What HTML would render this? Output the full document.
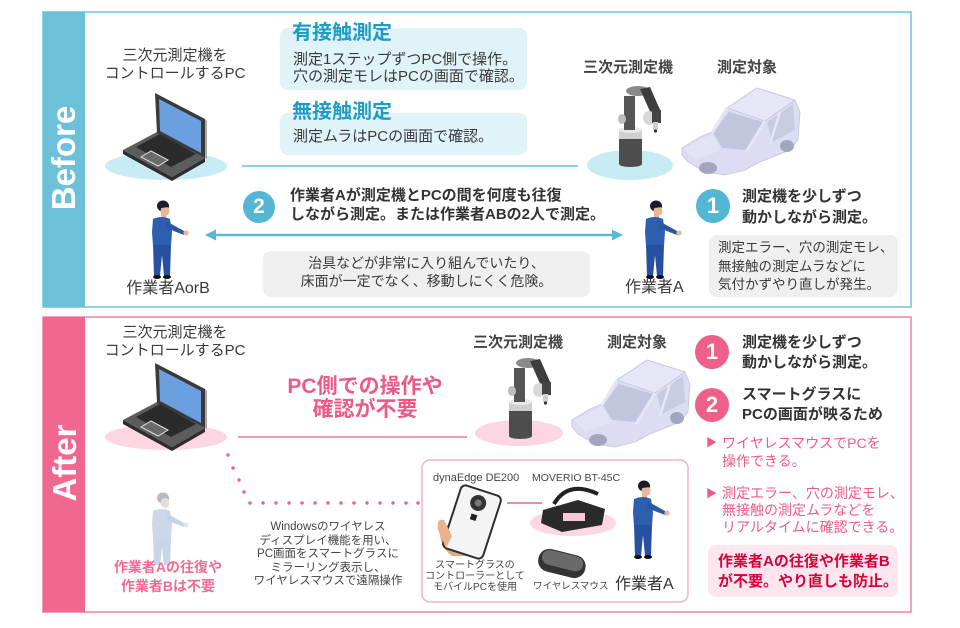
<!DOCTYPE html>
<html><head><meta charset="utf-8">
<style>
html,body{margin:0;padding:0;background:#fff;}
body{width:960px;height:628px;position:relative;overflow:hidden;font-family:"Liberation Sans","Noto Sans CJK JP",sans-serif;color:#3a3a3a;}
.t{position:absolute;white-space:nowrap;}
svg{position:absolute;left:0;top:0;}
</style></head><body>
<svg width="960" height="628" viewBox="0 0 960 628">
  <defs>
  <g id="wk">
    <ellipse cx="1" cy="5" rx="6" ry="5.5" fill="#1b1b2b"/>
    <ellipse cx="3" cy="10" rx="4.5" ry="5" fill="#e8b896"/>
    <path d="M-1,4 Q2,0 7,4 L7,6 L-1,7 Z" fill="#1b1b2b"/>
    <rect x="-1" y="13" width="5" height="5" fill="#e8b896"/>
    <path d="M-9,18 Q0,14 8,18 L10,31 L9,45 L-9,45 L-10,31 Z" fill="#2d5fae"/>
    <path d="M4,20 L22,30 L22,34 L4,27 Z" fill="#2a58a5"/>
    <circle cx="24" cy="32" r="2.6" fill="#e8b896"/>
    <path d="M-9,44 L9,44 L8,75 L2,75 L0,54 L-2,75 L-8,75 Z" fill="#2850a0"/>
    <ellipse cx="-5" cy="76" rx="4" ry="2" fill="#111"/>
    <ellipse cx="5" cy="76" rx="4" ry="2" fill="#111"/>
  </g>
  </defs>
  <!-- BEFORE frame -->
  <rect x="43" y="12" width="868" height="295" fill="#fff" stroke="#8fd4e4" stroke-width="2"/>
  <rect x="43" y="12" width="42" height="295" fill="#6cc1d9"/>
  <!-- AFTER frame -->
  <rect x="43" y="317" width="868" height="295" fill="#fff" stroke="#f5a2b9" stroke-width="2"/>
  <rect x="43" y="317" width="42" height="295" fill="#f06790"/>

  <!-- Before light-blue boxes -->
  <rect x="280" y="28" width="247" height="62" rx="8" fill="#e0f3f8"/>
  <rect x="280" y="113" width="247" height="42" rx="8" fill="#e0f3f8"/>
  <!-- before line -->
  <line x1="242" y1="166" x2="578" y2="166" stroke="#8fd0e2" stroke-width="2"/>
  <!-- arrow -->
  <line x1="212" y1="235" x2="616" y2="235" stroke="#5bb8d5" stroke-width="2.5"/>
  <polygon points="205,235 216,229.5 216,240.5" fill="#5bb8d5"/>
  <polygon points="623,235 612,229.5 612,240.5" fill="#5bb8d5"/>
  <!-- gray boxes -->
  <rect x="263" y="251" width="327" height="46" rx="8" fill="#efefef"/>
  <rect x="709" y="235" width="189" height="62" rx="8" fill="#efefef"/>
  <!-- circles -->
  <circle cx="259" cy="207" r="16" fill="#52b6d4"/>
  <circle cx="713" cy="206" r="17" fill="#52b6d4"/>

  <!-- ellipses -->
  <ellipse cx="166" cy="166" rx="61" ry="14" fill="#c8ecf4"/>
  <ellipse cx="630" cy="165" rx="43" ry="15" fill="#c6ebf3"/>
  <ellipse cx="166" cy="437" rx="61" ry="13" fill="#fcd6e1"/>
  <ellipse cx="519" cy="433" rx="44" ry="13" fill="#fcd6e1"/>

  <!-- laptops -->
  <g id="lap">
    <polygon points="123,150 172,177 205,158 205,162 172,181 123,154" fill="#2d2d2d"/>
    <polygon points="123,150 157,132 205,158 172,177" fill="#5c5c5c"/>
    <polygon points="136,147 160,134 196,154 171,167" fill="#2b2b2b"/>
    <polygon points="141,157 151,151 168,160 158,166" fill="#6a6a6a" stroke="#e0e0e0" stroke-width="1"/>
    <polygon points="155,93 205,119 205,158 157,133" fill="#3a3a3a"/>
    <polygon points="205,119 207,121 207,159 205,158" fill="#aaa"/>
    <polygon points="159,99 201,121 201,153 160,131" fill="#6b9fe0"/>
  </g>
  <use href="#lap" transform="translate(0,270)"/>

  <!-- robots -->
  <g id="rob">
    <rect x="619" y="138" width="23" height="26" fill="#4d4d4d"/>
    <ellipse cx="630.5" cy="164" rx="11.5" ry="3" fill="#4d4d4d"/>
    <rect x="619" y="130" width="23" height="9" fill="#cfcfcf"/>
    <ellipse cx="630.5" cy="130" rx="11.5" ry="3" fill="#e8e8e8"/>
    <rect x="624" y="96" width="11" height="34" fill="#555"/>
    <ellipse cx="622" cy="119" rx="4" ry="5" fill="#bdbdbd"/>
    <ellipse cx="638" cy="91" rx="12" ry="5" fill="#8a8a8a"/>
    <polygon points="640,89 650,87 661,112 652,116" fill="#3d3d3d"/>
    <ellipse cx="649" cy="118" rx="6" ry="7" fill="#d8d8d8"/>
    <rect x="652" y="110" width="9" height="13" fill="#444"/>
    <rect x="653" y="122" width="5" height="8" fill="#d0d0d0"/>
    <circle cx="655.5" cy="131" r="1.6" fill="#333"/>
  </g>
  <use href="#rob" transform="translate(-110,272)"/>

  <!-- cars -->
  <g id="car">
    <polygon points="682,148 700,137 712,132 727,108 757,88 795,100 800,112 798,140 790,150 760,162 745,170 725,175 705,172 688,162 682,155" fill="#dcdcf3" stroke="#c3c5e4" stroke-width="0.8"/>
    <polygon points="713,133 729,112 763,122 746,150 722,148" fill="#c3c5df"/>
    <polygon points="767,122 793,104 795,130 772,142" fill="#c9cbe3"/>
    <polygon points="727,108 757,88 795,100 765,121" fill="#e6e6f7" stroke="#c3c5e4" stroke-width="0.8"/>
    <line x1="727" y1="108" x2="712" y2="133" stroke="#e6e6f7" stroke-width="3"/>
    <line x1="765" y1="121" x2="746" y2="152" stroke="#e6e6f7" stroke-width="3"/>
    <line x1="780" y1="112" x2="770" y2="144" stroke="#e6e6f7" stroke-width="2.5"/>
    <polygon points="684,148 712,134 722,150 695,160" fill="#e3e3f6"/>
    <ellipse cx="708" cy="168" rx="9" ry="6" fill="#a4a6c0"/>
    <ellipse cx="787" cy="146" rx="7" ry="6" fill="#a4a6c0"/>
  </g>
  <use href="#car" transform="translate(-110,272)"/>

  <!-- workers (before) -->
  <use href="#wk" transform="translate(162,201)"/>
  <use href="#wk" transform="translate(655,201)"/>
  <g transform="translate(162,493)" opacity="0.75">
    <ellipse cx="1" cy="5" rx="6" ry="5.5" fill="#9aa3ae"/>
    <ellipse cx="3" cy="10" rx="4.5" ry="5" fill="#d9d3cf"/>
    <path d="M-9,18 Q0,14 8,18 L10,31 L9,45 L-9,45 L-10,31 Z" fill="#bccbe3"/>
    <path d="M4,20 L22,30 L22,34 L4,27 Z" fill="#b4c4df"/>
    <circle cx="24" cy="32" r="2.6" fill="#ddd"/>
    <path d="M-9,44 L9,44 L8,72 L2,72 L0,54 L-2,72 L-8,72 Z" fill="#b8c7e0"/>
  </g>

  <!-- after line -->
  <line x1="238" y1="437" x2="467" y2="437" stroke="#f49ab5" stroke-width="2"/>
  <!-- dotted connector -->
  <g fill="#ef5f8a">
    <circle cx="228" cy="455" r="1.7"/><circle cx="233" cy="468" r="1.7"/><circle cx="239" cy="480" r="1.7"/><circle cx="244" cy="492" r="1.7"/>
    <circle cx="250" cy="503" r="1.7"/><circle cx="263" cy="503" r="1.7"/><circle cx="276" cy="503" r="1.7"/><circle cx="289" cy="503" r="1.7"/>
    <circle cx="302" cy="503" r="1.7"/><circle cx="315" cy="503" r="1.7"/><circle cx="328" cy="503" r="1.7"/><circle cx="341" cy="503" r="1.7"/>
    <circle cx="354" cy="503" r="1.7"/><circle cx="367" cy="503" r="1.7"/><circle cx="380" cy="503" r="1.7"/><circle cx="393" cy="503" r="1.7"/>
    <circle cx="406" cy="503" r="1.7"/><circle cx="418" cy="503" r="1.7"/>
  </g>
  <!-- after circles -->
  <circle cx="712" cy="352" r="17" fill="#ee5f8a"/>
  <circle cx="712" cy="405" r="17" fill="#ee5f8a"/>
  <!-- pink box -->
  <rect x="708" y="545" width="190" height="52" rx="8" fill="#fde6ee"/>
  <!-- device box -->
  <rect x="422" y="460" width="266" height="142" rx="8" fill="#fff" stroke="#f2b3c6" stroke-width="1.5"/>
  <line x1="507" y1="503" x2="542" y2="503" stroke="#f08cab" stroke-width="2"/>
  <!-- worker A (after) -->
  <use href="#wk" transform="translate(643,481)"/>
  <!-- phone with hand -->
  <path d="M440,527 Q438,545 452,556 L484,556 L486,540 L460,522 Z" fill="#e2a982"/>
  <g transform="rotate(18 472 522)">
    <rect x="451" y="489" width="42" height="66" rx="5" fill="#f4f4f4" stroke="#2e2e2e" stroke-width="2"/>
    <circle cx="472" cy="502" r="8" fill="#333"/>
    <circle cx="472" cy="502" r="3.5" fill="#777"/>
    <rect x="469" y="514" width="6" height="6" fill="#222"/>
  </g>
  <path d="M438,530 Q436,518 444,520 L452,536 L446,548 Z" fill="#e8b28c"/>
  <!-- glasses -->
  <ellipse cx="573" cy="523" rx="43" ry="13" fill="#fcd6e1"/>
  <path d="M554,504 Q568,480 598,494" stroke="#222" stroke-width="4" fill="none"/>
  <polygon points="543,510 578,500 605,509 602,525 562,532 541,523" fill="#2a2a2a"/>
  <rect x="563" y="513" width="22" height="8" fill="#f7c8d6"/>
  <!-- mouse -->
  <g transform="rotate(14 562 563)">
    <rect x="538" y="552" width="48" height="23" rx="11" fill="#333"/>
    <rect x="541" y="553" width="42" height="15" rx="8" fill="#6a6a6a"/>
  </g>
</svg>

<!-- Section titles -->
<div class="t" style="left:-36px;top:138px;width:200px;height:40px;line-height:40px;text-align:center;font-size:33px;font-weight:bold;color:#fff;transform:rotate(-90deg);">Before</div>
<div class="t" style="left:-35px;top:443px;width:200px;height:40px;line-height:40px;text-align:center;font-size:33px;font-weight:bold;color:#fff;transform:rotate(-90deg);">After</div>

<!-- BEFORE texts -->
<div class="t" style="left:95px;top:47px;width:160px;text-align:center;font-size:15px;line-height:18px;">三次元測定機を<br>コントロールするPC</div>
<div class="t" style="left:292px;top:21px;font-size:20px;line-height:24px;font-weight:bold;color:#1e9cc4;">有接触測定</div>
<div class="t" style="left:293px;top:51px;font-size:15px;line-height:17px;">測定1ステップずつPC側で操作。<br>穴の測定モレはPCの画面で確認。</div>
<div class="t" style="left:292px;top:100px;font-size:20px;line-height:24px;font-weight:bold;color:#1e9cc4;">無接触測定</div>
<div class="t" style="left:293px;top:128px;font-size:15px;line-height:18px;">測定ムラはPCの画面で確認。</div>
<div class="t" style="left:583px;top:59px;font-size:15px;line-height:18px;font-weight:bold;color:#444;">三次元測定機</div>
<div class="t" style="left:717px;top:59px;font-size:15px;line-height:18px;font-weight:bold;color:#444;">測定対象</div>
<div class="t" style="left:249px;top:194px;width:20px;text-align:center;font-size:21px;line-height:26px;font-weight:bold;color:#fff;">2</div>
<div class="t" style="left:290px;top:186px;font-size:15px;line-height:19px;font-weight:bold;color:#333;">作業者Aが測定機とPCの間を何度も往復<br>しながら測定。または作業者ABの2人で測定。</div>
<div class="t" style="left:703px;top:193px;width:20px;text-align:center;font-size:22px;line-height:26px;font-weight:bold;color:#fff;">1</div>
<div class="t" style="left:742px;top:186px;font-size:15px;line-height:21px;font-weight:bold;color:#333;">測定機を少しずつ<br>動かしながら測定。</div>
<div class="t" style="left:718px;top:239px;font-size:13.5px;line-height:18.5px;">測定エラー、穴の測定モレ、<br>無接触の測定ムラなどに<br>気付かずやり直しが発生。</div>
<div class="t" style="left:263px;top:254px;width:327px;text-align:center;font-size:14px;line-height:18px;">治具などが非常に入り組んでいたり、<br>床面が一定でなく、移動しにくく危険。</div>
<div class="t" style="left:118px;top:279px;width:100px;text-align:center;font-size:16px;line-height:20px;">作業者AorB</div>
<div class="t" style="left:625px;top:278px;font-size:16px;line-height:20px;">作業者A</div>

<!-- AFTER texts -->
<div class="t" style="left:95px;top:324px;width:160px;text-align:center;font-size:15px;line-height:18px;">三次元測定機を<br>コントロールするPC</div>
<div class="t" style="left:265px;top:375px;width:200px;text-align:center;font-size:21px;line-height:23px;font-weight:bold;color:#ee5a86;">PC側での操作や<br>確認が不要</div>
<div class="t" style="left:473px;top:334px;font-size:15px;line-height:18px;font-weight:bold;color:#444;">三次元測定機</div>
<div class="t" style="left:607px;top:334px;font-size:15px;line-height:18px;font-weight:bold;color:#444;">測定対象</div>
<div class="t" style="left:702px;top:339px;width:20px;text-align:center;font-size:22px;line-height:26px;font-weight:bold;color:#fff;">1</div>
<div class="t" style="left:702px;top:392px;width:20px;text-align:center;font-size:22px;line-height:26px;font-weight:bold;color:#fff;">2</div>
<div class="t" style="left:742px;top:333px;font-size:15px;line-height:20px;font-weight:bold;color:#333;">測定機を少しずつ<br>動かしながら測定。</div>
<div class="t" style="left:742px;top:385px;font-size:15px;line-height:20px;font-weight:bold;color:#333;">スマートグラスに<br>PCの画面が映るため</div>
<div class="t" style="left:706px;top:436px;font-size:11px;line-height:14px;color:#ee5a86;">▶</div>
<div class="t" style="left:722px;top:434px;font-size:14px;line-height:18px;color:#ee5a86;">ワイヤレスマウスでPCを<br>操作できる。</div>
<div class="t" style="left:706px;top:487px;font-size:11px;line-height:14px;color:#ee5a86;">▶</div>
<div class="t" style="left:722px;top:485px;font-size:14px;line-height:17px;color:#ee5a86;">測定エラー、穴の測定モレ、<br>無接触の測定ムラなどを<br>リアルタイムに確認できる。</div>
<div class="t" style="left:718px;top:552px;font-size:15px;line-height:20px;font-weight:bold;color:#d5003c;">作業者Aの往復や作業者B<br>が不要。やり直しも防止。</div>
<div class="t" style="left:108px;top:558px;width:120px;text-align:center;font-size:14px;line-height:19px;font-weight:bold;color:#f26b93;">作業者Aの往復や<br>作業者Bは不要</div>
<div class="t" style="left:238px;top:521px;width:180px;text-align:center;font-size:11.5px;line-height:13.6px;color:#444;">Windowsのワイヤレス<br>ディスプレイ機能を用い、<br>PC画面をスマートグラスに<br>ミラーリング表示し、<br>ワイヤレスマウスで遠隔操作</div>
<div class="t" style="left:433px;top:471px;font-size:11px;line-height:14px;color:#444;">dynaEdge DE200</div>
<div class="t" style="left:532px;top:471px;font-size:10.5px;line-height:14px;color:#444;">MOVERIO BT-45C</div>
<div class="t" style="left:425px;top:560px;width:100px;text-align:center;font-size:10px;line-height:11px;color:#444;">スマートグラスの<br>コントローラーとして<br>モバイルPCを使用</div>
<div class="t" style="left:533px;top:581px;font-size:9.5px;line-height:12px;color:#444;">ワイヤレスマウス</div>
<div class="t" style="left:615px;top:575px;font-size:16px;line-height:20px;color:#333;">作業者A</div>
</body></html>
